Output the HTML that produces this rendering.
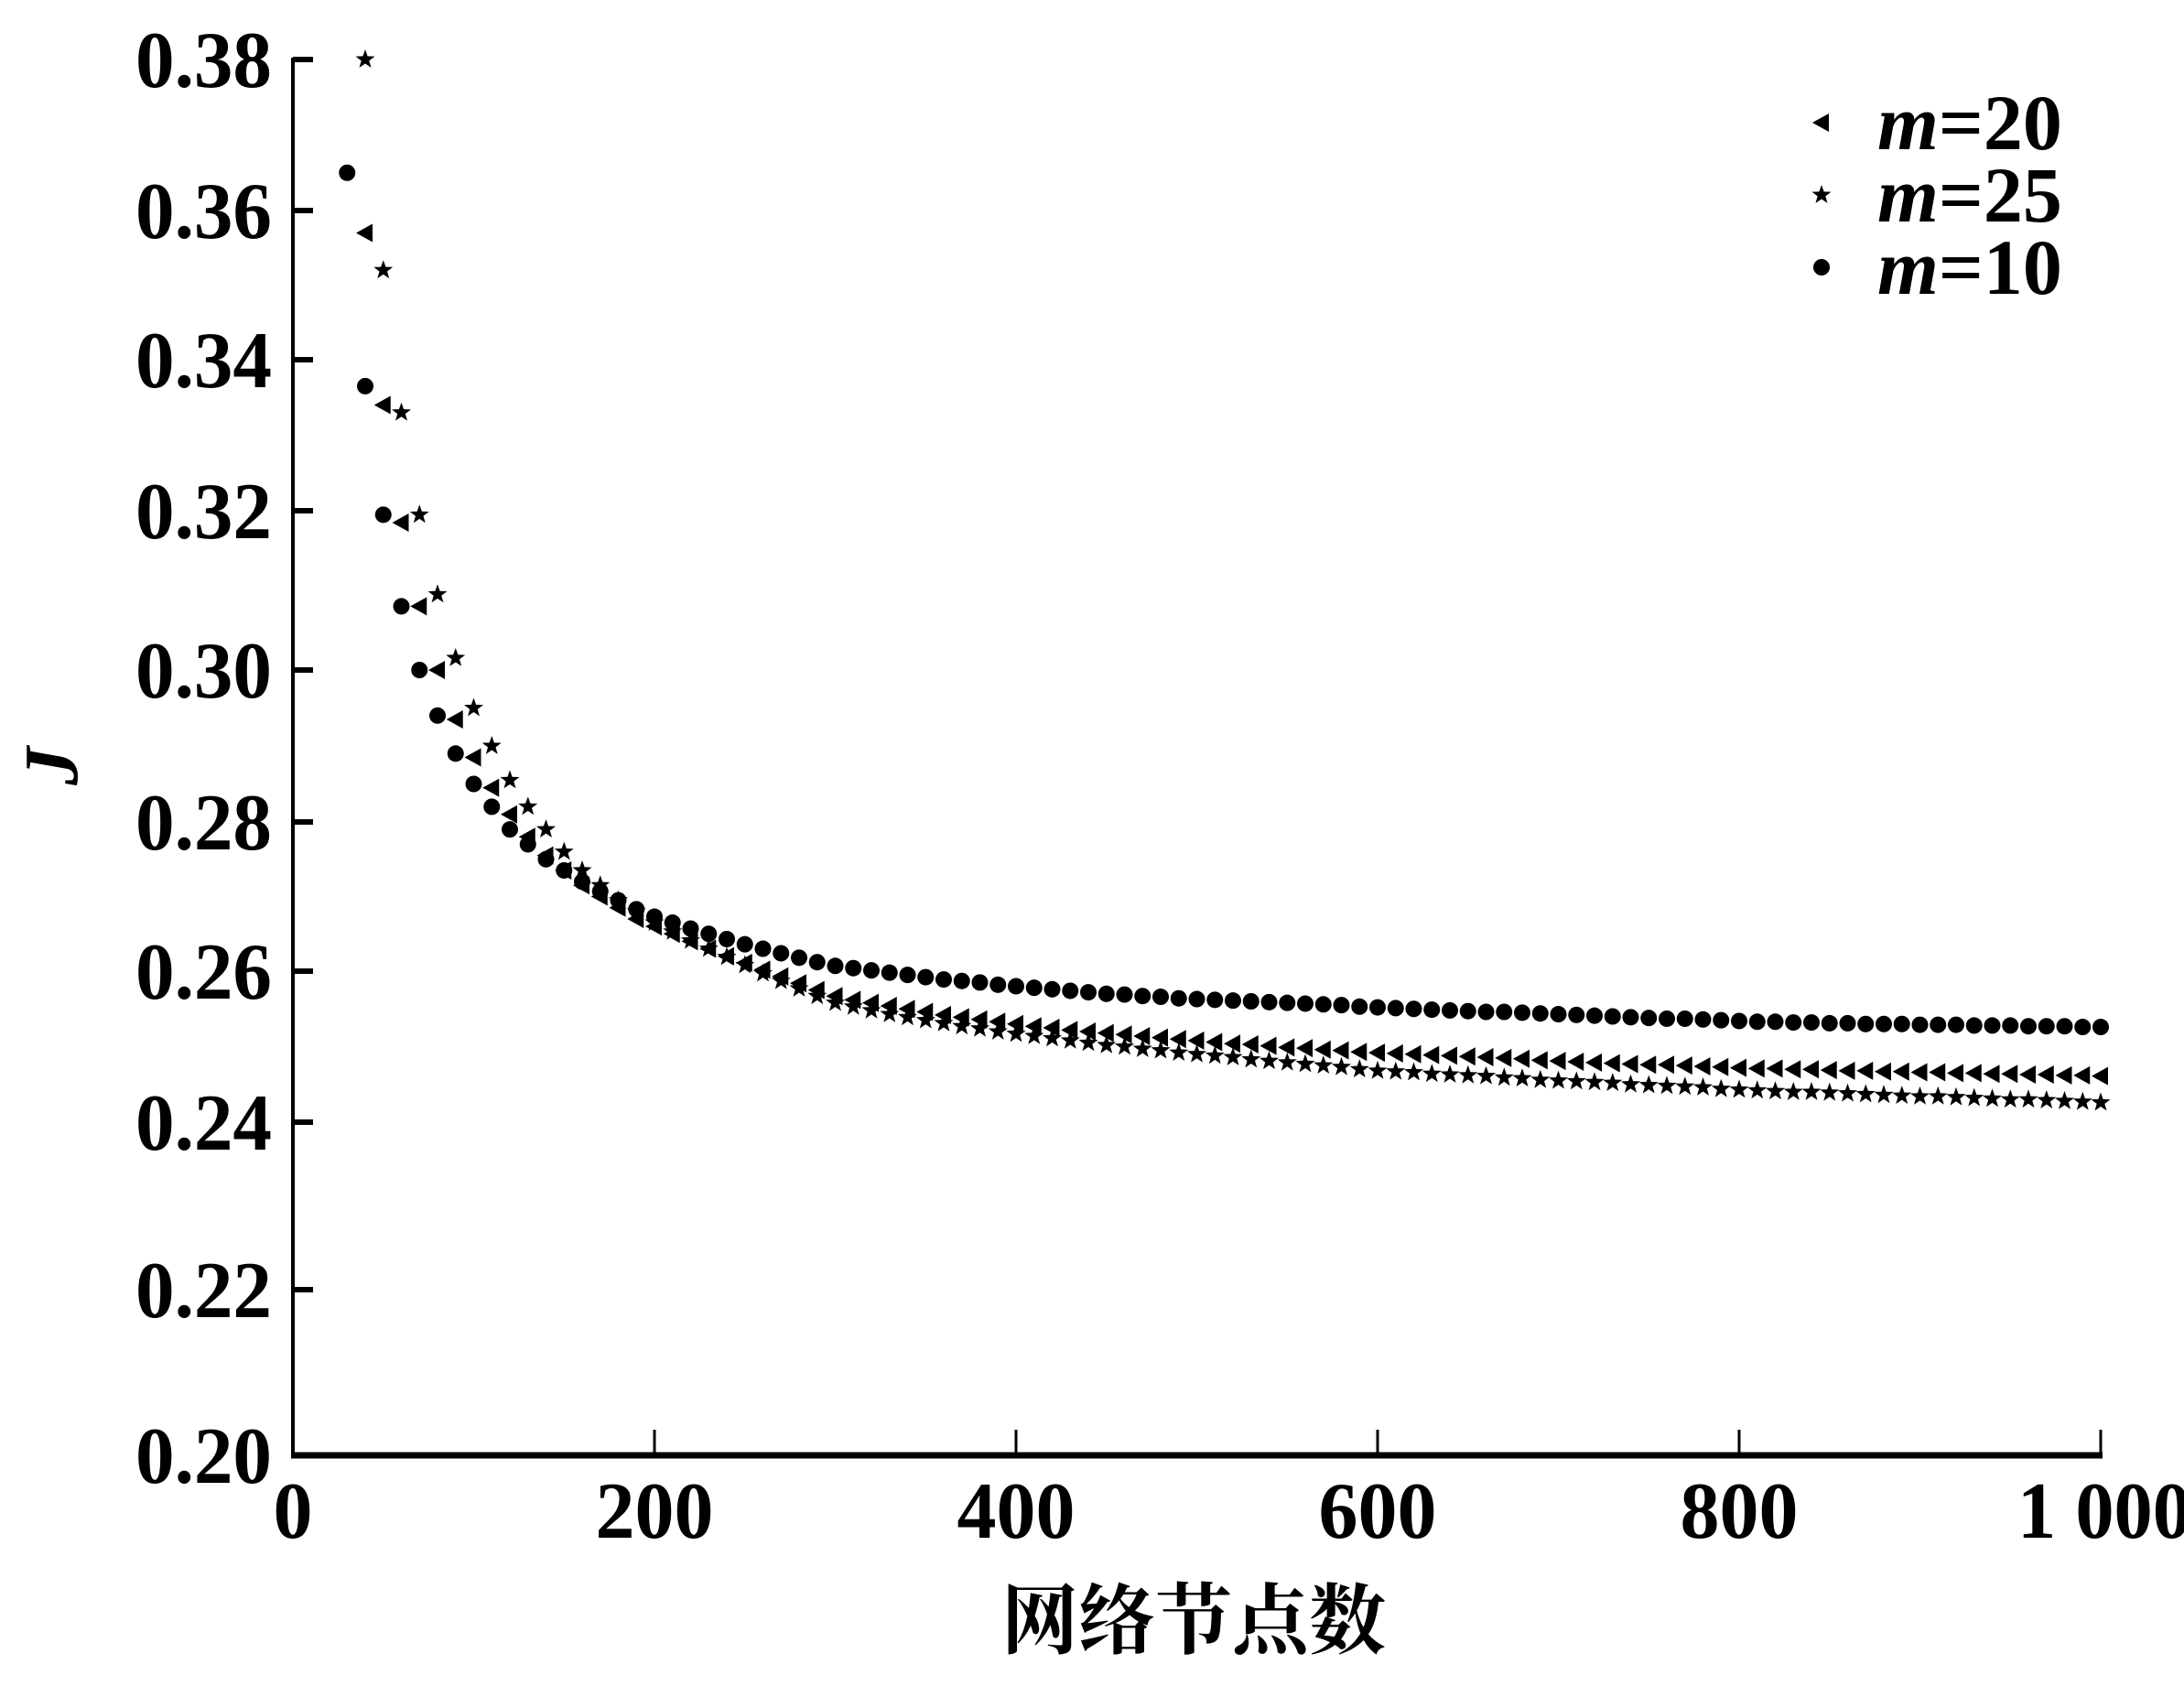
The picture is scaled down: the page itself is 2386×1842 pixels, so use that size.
<!DOCTYPE html>
<html><head><meta charset="utf-8">
<style>
html,body{margin:0;padding:0;background:#fff;}
svg{display:block;}
text{font-family:"Liberation Serif","Noto Serif CJK SC",serif;fill:#000;}
</style></head>
<body>
<svg id="chart" width="2386" height="1842" viewBox="0 0 2386 1842" xmlns="http://www.w3.org/2000/svg">
<g id="axes"></g>
<g id="marks"></g>
<g id="legend"></g>
<text x="1304" y="1800" font-size="84" font-weight="bold" text-anchor="middle" style="font-family:'Noto Serif CJK SC',serif">网络节点数</text>
<text x="0" y="0" font-size="84" font-style="italic" font-weight="bold" text-anchor="middle" transform="translate(84,837) rotate(-90)">J</text>
</svg>
<script>
const xTicks=[0,200,400,600,800,1000];
const xTickLabels=["0","200","400","600","800","1 000"];
const yTicks=[0.20,0.22,0.24,0.26,0.28,0.30,0.32,0.34,0.36,0.38];
const yTickLabels=["0.20","0.22","0.24","0.26","0.28","0.30","0.32","0.34","0.36","0.38"];
const start10=30, start20=40, start25=40, step=10;
const m10=[0.365,0.3365,0.3195,0.308,0.300,0.294,0.289,0.285,0.282,0.279,0.277,0.275,0.2735,0.272,0.2707,0.2695,0.2683,0.2673,
0.2665,0.2657,0.2650,0.2643,0.2636,0.2630,0.2624,0.2618,0.2612,0.2607,
0.2604,0.2601,0.2598,0.2595,0.2592,0.2589,0.2587,0.2585,0.2582,0.2580,
0.2578,0.2576,0.2574,0.2572,0.2570,0.2569,0.2567,0.2566,0.2564,0.2563,
0.2562,0.2561,0.2560,0.2559,0.2558,0.2557,0.2556,0.2555,0.2553,0.2552,
0.2551,0.2550,0.2549,0.2548,0.2547,0.2546,0.2546,0.2545,0.2544,0.2543,
0.2542,0.2541,0.2540,0.2539,0.2538,0.2537,0.2537,0.2536,0.2535,0.2534,
0.2533,0.2533,0.2532,0.2532,0.2531,0.2531,0.2530,0.2530,0.2530,0.2529,0.2529,0.2529,0.2528,0.2528,0.2528,0.2527,0.2527,0.2527,0.2526,0.2526];
const m20=[0.357,0.334,0.3185,0.308,0.300,0.2935,0.2885,0.2845,0.281,0.278,0.2755,0.2735,0.2715,0.270,0.2685,0.267,0.266,
0.2650,0.2640,0.2630,0.2620,0.2611,0.2602,0.2593,0.2584,0.2575,0.2567,
0.2562,0.2558,0.2554,0.2550,0.2546,0.2542,0.2539,0.2536,0.2533,0.2530,
0.2527,0.2525,0.2522,0.2520,0.2518,0.2516,0.2514,0.2512,0.2510,0.2508,
0.2506,0.2504,0.2503,0.2501,0.2499,0.2498,0.2496,0.2495,0.2493,0.2492,
0.2491,0.2490,0.2489,0.2488,0.2487,0.2486,0.2485,0.2484,0.2482,0.2481,
0.2480,0.2479,0.2478,0.2477,0.2476,0.2476,0.2475,0.2474,0.2473,0.2472,
0.2471,0.2471,0.2470,0.2470,0.2469,0.2468,0.2468,0.2467,0.2467,0.2466,0.2466,0.2465,0.2465,0.2464,0.2464,0.2463,0.2463,0.2462,0.2462,0.2461];
const m25=[0.380,0.352,0.333,0.3195,0.3095,0.3015,0.295,0.290,0.2855,0.282,0.279,0.276,0.2735,0.2715,0.2695,0.268,0.2665,
0.2653,0.2641,0.2630,0.2619,0.2608,0.2597,0.2587,0.2577,0.2567,0.2558,
0.2553,0.2548,0.2543,0.2539,0.2535,0.2531,0.2527,0.2524,0.2520,0.2517,
0.2514,0.2511,0.2508,0.2505,0.2502,0.2500,0.2497,0.2495,0.2492,0.2490,
0.2488,0.2486,0.2483,0.2481,0.2479,0.2477,0.2475,0.2473,0.2470,0.2468,
0.2467,0.2466,0.2464,0.2463,0.2462,0.2461,0.2459,0.2458,0.2456,0.2455,
0.2454,0.2453,0.2452,0.2450,0.2449,0.2448,0.2447,0.2446,0.2444,0.2443,
0.2442,0.2441,0.2440,0.2440,0.2439,0.2438,0.2437,0.2436,0.2435,0.2434,0.2434,0.2433,0.2432,0.2431,0.2430,0.2430,0.2429,0.2428,0.2427,0.2426];

const NS="http://www.w3.org/2000/svg";
const X0=320,X1=2295;
function xs(v){return X0+(v-0)/(1000-0)*(X1-X0);}
const yCal=[1590,1409,1226,1061,898,732,558,393,230,65];
function ys(v){
  if(v<=yTicks[0])return yCal[0];
  for(let i=0;i<yTicks.length-1;i++){
    if(v<=yTicks[i+1]){const t=(v-yTicks[i])/(yTicks[i+1]-yTicks[i]);return yCal[i]+t*(yCal[i+1]-yCal[i]);}
  }
  const n=yTicks.length-1;return yCal[n]+(v-yTicks[n])/(yTicks[n]-yTicks[n-1])*(yCal[n]-yCal[n-1]);
}
function labLen(s){let w=0;for(const c of s){w+=c==='.'?20:(c===' '?18:43);}return w;}
function mk(tag,attrs,parent){const e=document.createElementNS(NS,tag);for(const k in attrs)e.setAttribute(k,attrs[k]);parent.appendChild(e);return e;}
const axes=document.getElementById('axes'),marks=document.getElementById('marks'),legend=document.getElementById('legend');
let e;
e=mk('line',{x1:X0,y1:ys(0.38)-2,x2:X0,y2:ys(0.20),stroke:'#000','stroke-width':4},axes);


e=mk('line',{x1:X0-2,y1:ys(0.20),x2:X1+2,y2:ys(0.20),stroke:'#000','stroke-width':7},axes);


yTicks.forEach((v,i)=>{
  const y=ys(v);
  let t=mk('line',{x1:X0,y1:y,x2:X0+22,y2:y,stroke:'#000','stroke-width':6},axes);
  
  
  let l=mk('text',{x:297,y:y+30,'font-size':88,'font-weight':'bold','text-anchor':'end',textLength:labLen(yTickLabels[i]),lengthAdjust:'spacingAndGlyphs'},axes);
  l.textContent=yTickLabels[i];
  
  
});
xTicks.forEach((v,i)=>{
  const x=xs(v);
  let t=mk('line',{x1:x,y1:ys(0.20),x2:x,y2:ys(0.20)-28,stroke:'#000','stroke-width':3},axes);
  
  
  let l=mk('text',{x:(i==xTicks.length-1?x+4:x),y:1680,'font-size':88,'font-weight':'bold','text-anchor':'middle',textLength:labLen(xTickLabels[i]),lengthAdjust:'spacingAndGlyphs'},axes);
  l.textContent=xTickLabels[i];
  
  
});
function dot(x,y,p){return mk('circle',{cx:x,cy:y,r:9,fill:'#000'},p);}
function tri(x,y,p){return mk('polygon',{points:`${x-10},${y} ${x+8},${y-10} ${x+8},${y+10}`,fill:'#000'},p);}
function star(x,y,p){let pts=[];for(let k=0;k<10;k++){const a=-Math.PI/2+k*Math.PI/5;const r=k%2?4.5:11;pts.push((x+r*Math.cos(a)).toFixed(1)+','+(y+r*Math.sin(a)).toFixed(1));}return mk('polygon',{points:pts.join(' '),fill:'#000'},p);}
m10.forEach((v,i)=>{const n=start10+i*step;const c=dot(xs(n),ys(v),marks);

});
m20.forEach((v,i)=>{const n=start20+i*step;const c=tri(xs(n),ys(v),marks);

});
m25.forEach((v,i)=>{const n=start25+i*step;const c=star(xs(n),ys(v),marks);

});
const legItems=[{f:tri,lab:'20'},{f:star,lab:'25'},{f:dot,lab:'10'}];
legItems.forEach((it,i)=>{
  const cy=134+i*79;
  const g=mk('g',{},legend);
  
  
  it.f(1990,cy,g);
  const t=mk('text',{x:2051,y:cy+29,'font-size':86,'font-weight':'bold'},g);
  t.innerHTML='<tspan font-style="italic">m</tspan>='+it.lab;
});
</script>
</body></html>
